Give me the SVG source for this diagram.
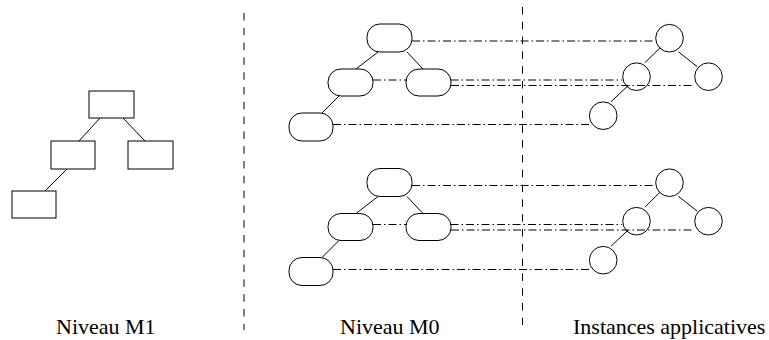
<svg xmlns="http://www.w3.org/2000/svg" width="769" height="340" viewBox="0 0 769 340">
<style>
.box{fill:#fff;stroke:#000;stroke-width:1}
.ring{fill:none;stroke:#000;stroke-width:1}
.edge{stroke:#000;stroke-width:1;fill:none}
.link{stroke:#000;stroke-width:1;fill:none;stroke-dasharray:8 3 1.5 3}
.sep{stroke:#000;stroke-width:1;fill:none;stroke-dasharray:7.5 7.3}
.lbl{font-family:"Liberation Serif","Times New Roman",serif;font-size:22px;fill:#000}
</style>
<rect width="769" height="340" fill="#fff"/>
<g id="separators">
<line class="sep" x1="244" y1="13" x2="244" y2="330"/>
<line class="sep" x1="522.5" y1="7" x2="522.5" y2="325"/>
</g>
<g id="connectors">
<line class="edge" x1="100" y1="118" x2="79" y2="141"/>
<line class="edge" x1="123" y1="118" x2="145" y2="141"/>
<line class="edge" x1="67" y1="169" x2="45" y2="191"/>
<line class="edge" x1="378" y1="52" x2="356" y2="69"/>
<line class="edge" x1="407" y1="52" x2="423" y2="69"/>
<line class="edge" x1="339" y1="96" x2="322" y2="113"/>
<line class="edge" x1="378" y1="196.5" x2="356" y2="213.5"/>
<line class="edge" x1="407" y1="196.5" x2="423" y2="213.5"/>
<line class="edge" x1="339" y1="240.5" x2="322" y2="257.5"/>
<line class="edge" x1="660" y1="47.7" x2="645" y2="62.7"/>
<line class="edge" x1="678.3" y1="51.7" x2="697.3" y2="66.7"/>
<line class="edge" x1="627.7" y1="86" x2="611" y2="101.7"/>
<line class="edge" x1="660" y1="192.2" x2="645" y2="207.2"/>
<line class="edge" x1="678.3" y1="196.2" x2="697.3" y2="211.2"/>
<line class="edge" x1="627.7" y1="230.5" x2="611" y2="246.2"/>
<line class="link" x1="412" y1="41" x2="655" y2="41"/>
<line class="link" x1="373" y1="80" x2="622" y2="80"/>
<line class="link" x1="451" y1="85.5" x2="694" y2="85.5"/>
<line class="link" x1="333" y1="124.5" x2="589" y2="124.5"/>
<line class="link" x1="412" y1="185.5" x2="655" y2="185.5"/>
<line class="link" x1="373" y1="224.5" x2="622" y2="224.5"/>
<line class="link" x1="451" y1="230" x2="694" y2="230"/>
<line class="link" x1="333" y1="269.5" x2="589" y2="269.5"/>
</g>
<g id="m1-root"><rect class="box" x="89" y="91" width="45" height="27"/></g>
<g id="m1-left"><rect class="box" x="51" y="141" width="44" height="28"/></g>
<g id="m1-right"><rect class="box" x="128" y="141" width="45" height="28"/></g>
<g id="m1-leaf"><rect class="box" x="12" y="191" width="44" height="27"/></g>
<g id="m0a-root"><rect class="box" x="367" y="24" width="45" height="28" rx="13"/></g>
<g id="m0a-left"><rect class="box" x="328" y="69" width="45" height="27" rx="13"/></g>
<g id="m0a-right"><rect class="box" x="406" y="69" width="45" height="27" rx="13"/></g>
<g id="m0a-leaf"><rect class="box" x="289" y="113" width="44" height="28" rx="13"/></g>
<g id="m0b-root"><rect class="box" x="367" y="168.5" width="45" height="28" rx="13"/></g>
<g id="m0b-left"><rect class="box" x="328" y="213.5" width="45" height="27" rx="13"/></g>
<g id="m0b-right"><rect class="box" x="406" y="213.5" width="45" height="27" rx="13"/></g>
<g id="m0b-leaf"><rect class="box" x="289" y="257.5" width="44" height="28" rx="13"/></g>
<g id="ia-root"><circle class="ring" cx="669.5" cy="38.2" r="13.8"/></g>
<g id="ia-left"><circle class="ring" cx="636.5" cy="76.7" r="13.8"/></g>
<g id="ia-right"><circle class="ring" cx="708.5" cy="76.7" r="13.8"/></g>
<g id="ia-leaf"><circle class="ring" cx="603.2" cy="115.7" r="13.8"/></g>
<g id="ib-root"><circle class="ring" cx="669.5" cy="182.7" r="13.8"/></g>
<g id="ib-left"><circle class="ring" cx="636.5" cy="221.2" r="13.8"/></g>
<g id="ib-right"><circle class="ring" cx="708.5" cy="221.2" r="13.8"/></g>
<g id="ib-leaf"><circle class="ring" cx="603.2" cy="260.2" r="13.8"/></g>
<g id="labels">
<text class="lbl" x="56" y="333.5">Niveau M1</text>
<text class="lbl" x="340" y="333.5">Niveau M0</text>
<text class="lbl" x="573" y="333.5">Instances applicatives</text>
</g>
</svg>
